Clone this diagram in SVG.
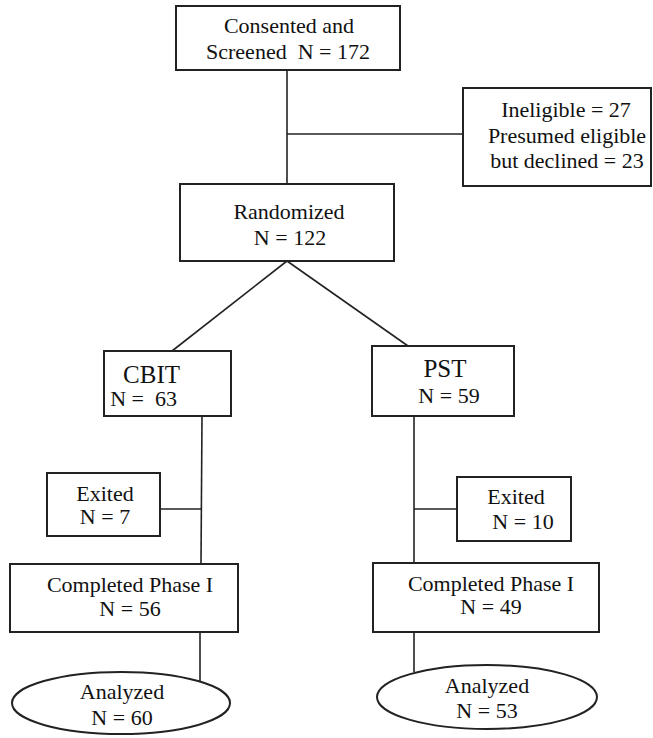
<svg xmlns="http://www.w3.org/2000/svg" width="653" height="738" viewBox="0 0 653 738">
<style>
.box{fill:#fff;stroke:#222;stroke-width:2}
.ln{fill:none;stroke:#222;stroke-width:1.6}
text{font-family:"Liberation Serif","Times New Roman",serif;font-size:22px;fill:#111;text-anchor:middle}
.big{font-size:25px}
.end{text-anchor:end}
</style>
<rect width="653" height="738" fill="#fff"/>
<g id="connectors">
<line class="ln" x1="287" y1="70" x2="287" y2="184"/>
<line class="ln" x1="287" y1="134" x2="463" y2="134"/>
<line class="ln" x1="287" y1="261" x2="172" y2="351"/>
<line class="ln" x1="287" y1="261" x2="408" y2="346"/>
<line class="ln" x1="202" y1="416" x2="201" y2="564"/>
<line class="ln" x1="160" y1="509" x2="202" y2="509"/>
<line class="ln" x1="414" y1="416" x2="414" y2="563"/>
<line class="ln" x1="414" y1="509" x2="457" y2="509"/>
<line class="ln" x1="200" y1="632" x2="200" y2="681"/>
<line class="ln" x1="414" y1="632" x2="414" y2="672"/>
</g>
<g id="consented">
<rect class="box" x="176" y="6" width="224" height="64"/>
<text x="289" y="33">Consented and</text>
<text x="288" y="59" xml:space="preserve">Screened  N = 172</text>
</g>
<g id="ineligible">
<rect class="box" x="463" y="88" width="188" height="98"/>
<text x="566" y="117">Ineligible = 27</text>
<text x="567" y="143">Presumed eligible</text>
<text x="567" y="168">but declined = 23</text>
</g>
<g id="randomized">
<rect class="box" x="180" y="184" width="214" height="77"/>
<text x="289" y="219">Randomized</text>
<text x="290" y="245">N = 122</text>
</g>
<g id="cbit">
<rect class="box" x="104" y="351" width="127" height="65"/>
<text class="big end" x="180" y="383">CBIT</text>
<text class="end" x="177" y="406" xml:space="preserve">N =  63</text>
</g>
<g id="pst">
<rect class="box" x="372" y="346" width="142" height="70"/>
<text class="big" x="445" y="377">PST</text>
<text x="449" y="403">N = 59</text>
</g>
<g id="exited-cbit">
<rect class="box" x="47" y="473" width="113" height="63"/>
<text x="105" y="501">Exited</text>
<text x="105" y="524">N = 7</text>
</g>
<g id="exited-pst">
<rect class="box" x="457" y="477" width="114" height="64"/>
<text x="516" y="504">Exited</text>
<text x="523" y="529">N = 10</text>
</g>
<g id="completed-cbit">
<rect class="box" x="10" y="564" width="228" height="68"/>
<text x="130" y="592">Completed Phase I</text>
<text x="130" y="616">N = 56</text>
</g>
<g id="completed-pst">
<rect class="box" x="373" y="563" width="226" height="69"/>
<text x="491" y="591">Completed Phase I</text>
<text x="491" y="614">N = 49</text>
</g>
<g id="analyzed-cbit">
<ellipse class="box" cx="121" cy="703" rx="109" ry="31"/>
<text x="122" y="699">Analyzed</text>
<text x="122" y="725">N = 60</text>
</g>
<g id="analyzed-pst">
<ellipse class="box" cx="487" cy="697" rx="110" ry="32"/>
<text x="487" y="693">Analyzed</text>
<text x="487" y="718">N = 53</text>
</g>
</svg>
